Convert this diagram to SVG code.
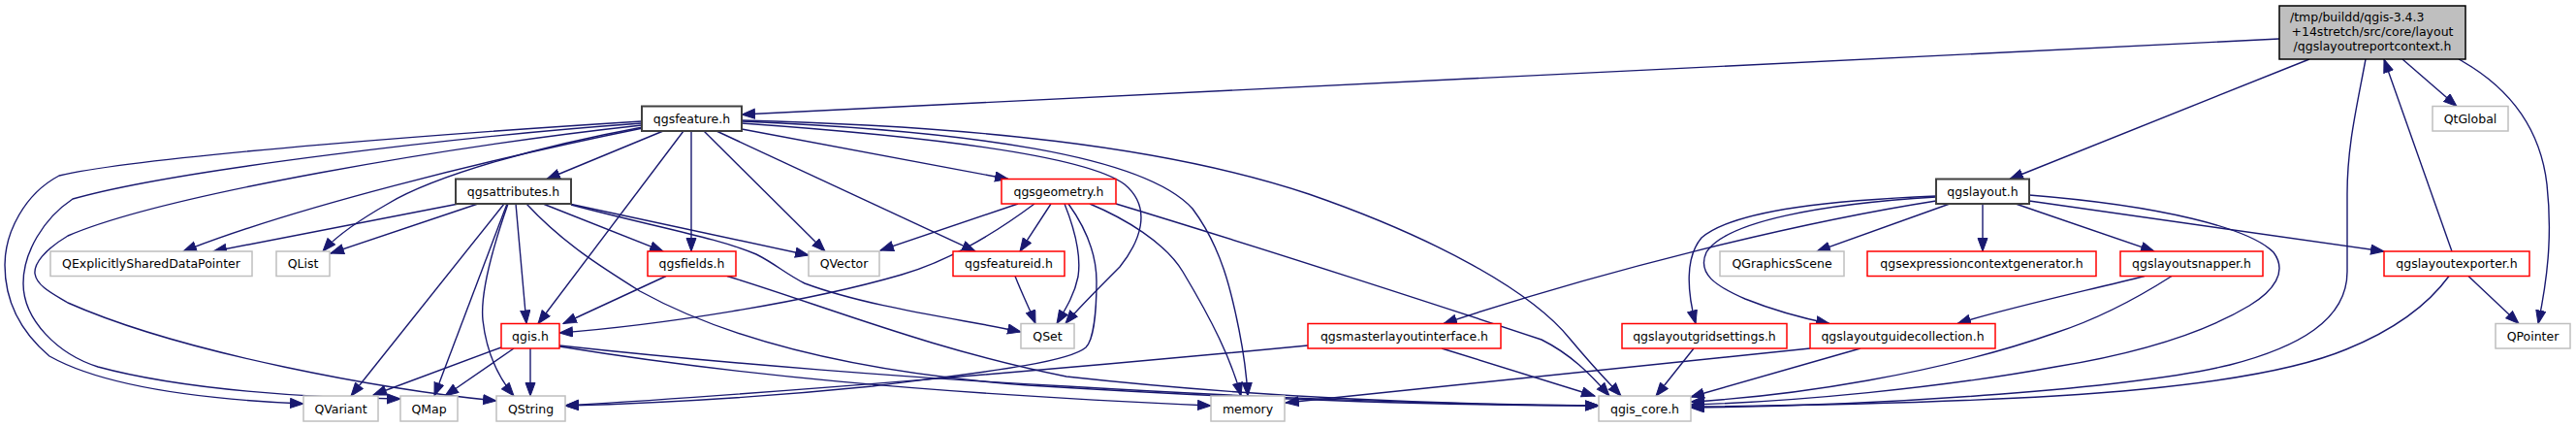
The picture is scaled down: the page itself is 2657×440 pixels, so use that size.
<svg xmlns="http://www.w3.org/2000/svg" width="2657" height="440" viewBox="0 0 2657 440">
<defs>
<style>
.e{fill:none;stroke:#191970;stroke-width:1.4}
.n rect{fill:#ffffff;stroke-width:1.5}
.b rect{stroke:#404040;stroke-width:2}
.r rect{stroke:#ff0000}
.g rect{stroke:#bfbfbf}
text{font-family:"DejaVu Sans","Liberation Sans",sans-serif;font-size:12.5px;fill:#000000;text-anchor:middle}
</style>
<marker id="a" markerWidth="15" markerHeight="12" refX="14" refY="5.5" orient="auto" markerUnits="userSpaceOnUse">
<path d="M0.5,0.5 L14,5.5 L0.5,10.5 z" fill="#191970" stroke="#191970" stroke-width="1"/>
</marker>
</defs>
<rect width="2657" height="440" fill="#ffffff"/>
<g id="connectors">
<path class="e" marker-end="url(#a)" d="M2351,40 L765,118"/>
<path class="e" marker-end="url(#a)" d="M2382,61 L2073,184.5"/>
<path class="e" marker-end="url(#a)" d="M2478,61 L2534,109.5"/>
<path class="e" marker-end="url(#a)" d="M2536,61 C2585,88 2620,130 2627,190 C2633,245 2627,290 2618,333.5"/>
<path class="e" marker-end="url(#a)" d="M2440,61 C2431,110 2421,150 2421,200 L2421,280 C2421,330 2370,358 2300,376 C2200,400 1950,418 1744,420"/>
<path class="e" marker-end="url(#a)" d="M2529,259 L2459,61"/>
<path class="e" marker-end="url(#a)" d="M684,135 L564,184.5"/>
<path class="e" marker-end="url(#a)" d="M663,132 C500,165 300,215 189,259"/>
<path class="e" marker-end="url(#a)" d="M663,131 C560,150 450,180 400,210 C365,230 345,245 333,259"/>
<path class="e" marker-end="url(#a)" d="M662,125 C500,135 150,160 61,181 C25,200 5,240 5,273 C5,315 25,345 51,367 C110,400 220,412 313,416"/>
<path class="e" marker-end="url(#a)" d="M662,127 C480,140 180,175 75,205 C45,225 24,260 24,292 C24,330 60,365 101,378 C190,402 320,410 413,411"/>
<path class="e" marker-end="url(#a)" d="M662,129 C470,150 170,200 70,243 C45,258 35,272 36,282 C38,295 55,303 70,312 C190,365 400,402 512,413"/>
<path class="e" marker-end="url(#a)" d="M705,135 L555,333.5"/>
<path class="e" marker-end="url(#a)" d="M713,135 L713,259"/>
<path class="e" marker-end="url(#a)" d="M726,135 L851,259"/>
<path class="e" marker-end="url(#a)" d="M739,135 L1006,259"/>
<path class="e" marker-end="url(#a)" d="M765,133 L1040,184.5"/>
<path class="e" marker-end="url(#a)" d="M765,127 C950,140 1120,160 1160,190 C1190,215 1175,250 1155,275 C1130,300 1110,320 1099,333.5"/>
<path class="e" marker-end="url(#a)" d="M765,125 C1000,135 1180,160 1230,215 C1260,255 1270,300 1278,340 C1284,370 1286,390 1287,408"/>
<path class="e" marker-end="url(#a)" d="M765,124 C1000,130 1200,150 1350,200 C1480,245 1580,300 1620,350 C1645,380 1660,395 1672,408"/>
<path class="e" marker-end="url(#a)" d="M473,210 L220,259"/>
<path class="e" marker-end="url(#a)" d="M493,210 L341,261"/>
<path class="e" marker-end="url(#a)" d="M520,210 L362,408"/>
<path class="e" marker-end="url(#a)" d="M523,210 L448,408"/>
<path class="e" marker-end="url(#a)" d="M524,210 C510,250 495,300 498,330 C502,365 515,390 530,408"/>
<path class="e" marker-end="url(#a)" d="M532,210 L543,333.5"/>
<path class="e" marker-end="url(#a)" d="M560,210 L684,259"/>
<path class="e" marker-end="url(#a)" d="M587,210 L834,263"/>
<path class="e" marker-end="url(#a)" d="M589,211 C680,235 740,245 780,262 C800,272 810,282 830,292 C900,318 1000,330 1053,342"/>
<path class="e" marker-end="url(#a)" d="M543,210 C580,250 620,275 660,300 C760,355 900,385 1060,397 C1300,412 1500,418 1649,418"/>
<path class="e" marker-end="url(#a)" d="M687,284.5 L581,333.5"/>
<path class="e" marker-end="url(#a)" d="M750,284.5 C850,315 960,360 1100,388 C1300,410 1500,417 1649,418"/>
<path class="e" marker-end="url(#a)" d="M1050,210 L908,258"/>
<path class="e" marker-end="url(#a)" d="M1067,210 C1020,245 975,270 930,283 C830,312 680,335 577,343"/>
<path class="e" marker-end="url(#a)" d="M1084,210 L1052,259"/>
<path class="e" marker-end="url(#a)" d="M1098,210 C1110,240 1115,265 1112,285 C1108,305 1098,320 1090,333.5"/>
<path class="e" marker-end="url(#a)" d="M1102,210 C1120,235 1131,260 1131,290 C1131,320 1128,350 1120,358 C1100,375 1000,385 900,398 C780,410 660,416 583,418"/>
<path class="e" marker-end="url(#a)" d="M1124,210 C1160,225 1202,250 1220,280 C1250,330 1270,370 1280,408"/>
<path class="e" marker-end="url(#a)" d="M1151,210 C1300,255 1500,320 1590,350 C1620,365 1640,385 1660,408"/>
<path class="e" marker-end="url(#a)" d="M1047,284.5 C1055,305 1062,318 1068,333.5"/>
<path class="e" marker-end="url(#a)" d="M517,358 L385,407"/>
<path class="e" marker-end="url(#a)" d="M530,359 L459,408"/>
<path class="e" marker-end="url(#a)" d="M547,359 L547,408"/>
<path class="e" marker-end="url(#a)" d="M577,357 C750,385 950,405 1249,418"/>
<path class="e" marker-end="url(#a)" d="M577,356 C750,375 950,390 1100,398 C1300,410 1500,417 1649,418"/>
<path class="e" marker-end="url(#a)" d="M1349,356 C1100,380 800,405 583,418"/>
<path class="e" marker-end="url(#a)" d="M1487,359 L1645,408"/>
<path class="e" marker-end="url(#a)" d="M2011,210 L1874,259"/>
<path class="e" marker-end="url(#a)" d="M2045,210 L2045,259"/>
<path class="e" marker-end="url(#a)" d="M2079,210 L2222,259"/>
<path class="e" marker-end="url(#a)" d="M2093,207 L2459,259"/>
<path class="e" marker-end="url(#a)" d="M1997,202 C1900,206 1790,215 1755,245 C1738,265 1740,300 1749,333.5"/>
<path class="e" marker-end="url(#a)" d="M1997,203 C1880,210 1780,228 1760,260 C1750,282 1770,295 1800,308 C1830,320 1860,328 1887,333.5"/>
<path class="e" marker-end="url(#a)" d="M1997,207 C1850,230 1650,280 1489,333.5"/>
<path class="e" marker-end="url(#a)" d="M2093,201 C2230,212 2320,235 2345,260 C2360,280 2345,300 2320,315 C2270,345 2200,365 2120,378 C2000,400 1850,414 1744,417"/>
<path class="e" marker-end="url(#a)" d="M2212,284.5 C2150,300 2060,320 2019,333.5"/>
<path class="e" marker-end="url(#a)" d="M2240,284.5 C2200,310 2160,330 2120,343 C2000,385 1850,408 1744,414"/>
<path class="e" marker-end="url(#a)" d="M1919,359 L1744,409"/>
<path class="e" marker-end="url(#a)" d="M1867,359 L1326,415"/>
<path class="e" marker-end="url(#a)" d="M1747,359 L1708,408"/>
<path class="e" marker-end="url(#a)" d="M2546,284.5 L2598,333.5"/>
<path class="e" marker-end="url(#a)" d="M2526,284.5 C2500,320 2462,343 2420,360 C2360,385 2250,400 2120,408 C2000,415 1850,418 1744,419"/>
</g>
<g id="node-main" class="n"><rect x="2351" y="6" width="192" height="55" style="fill:#bfbfbf;stroke:#000000;stroke-width:1.5"/>
<text x="2362" y="22" style="text-anchor:start">/tmp/buildd/qgis-3.4.3</text>
<text x="2447" y="37">+14stretch/src/core/layout</text>
<text x="2447" y="52">/qgslayoutreportcontext.h</text></g>
<g id="node-qgsfeature" class="n b"><rect x="662" y="109.5" width="103" height="25.5"/><text x="713.5" y="126.5">qgsfeature.h</text></g>
<g id="node-QtGlobal" class="n g"><rect x="2509" y="109.5" width="78" height="25.5"/><text x="2548" y="126.5">QtGlobal</text></g>
<g id="node-qgsattributes" class="n b"><rect x="470" y="184.5" width="119" height="25.5"/><text x="529.5" y="201.5">qgsattributes.h</text></g>
<g id="node-qgsgeometry" class="n r"><rect x="1033" y="184.5" width="118" height="25.5"/><text x="1092" y="201.5">qgsgeometry.h</text></g>
<g id="node-qgslayout" class="n b"><rect x="1997" y="184.5" width="96" height="25.5"/><text x="2045" y="201.5">qgslayout.h</text></g>
<g id="node-QExplicitlySharedDataPointer" class="n g"><rect x="52" y="259" width="208" height="25.5"/><text x="156" y="276">QExplicitlySharedDataPointer</text></g>
<g id="node-QList" class="n g"><rect x="285" y="259" width="55" height="25.5"/><text x="312.5" y="276">QList</text></g>
<g id="node-qgsfields" class="n r"><rect x="668" y="259" width="91" height="25.5"/><text x="713.5" y="276">qgsfields.h</text></g>
<g id="node-QVector" class="n g"><rect x="834" y="259" width="73" height="25.5"/><text x="870.5" y="276">QVector</text></g>
<g id="node-qgsfeatureid" class="n r"><rect x="983" y="259" width="115" height="25.5"/><text x="1040.5" y="276">qgsfeatureid.h</text></g>
<g id="node-QGraphicsScene" class="n g"><rect x="1774" y="259" width="128" height="25.5"/><text x="1838" y="276">QGraphicsScene</text></g>
<g id="node-qgsexpressioncontextgenerator" class="n r"><rect x="1926" y="259" width="236" height="25.5"/><text x="2044" y="276">qgsexpressioncontextgenerator.h</text></g>
<g id="node-qgslayoutsnapper" class="n r"><rect x="2187" y="259" width="147" height="25.5"/><text x="2260.5" y="276">qgslayoutsnapper.h</text></g>
<g id="node-qgslayoutexporter" class="n r"><rect x="2459" y="259" width="150" height="25.5"/><text x="2534" y="276">qgslayoutexporter.h</text></g>
<g id="node-qgis" class="n r"><rect x="517" y="333.5" width="60" height="25.5"/><text x="547" y="350.5">qgis.h</text></g>
<g id="node-QSet" class="n g"><rect x="1053" y="333.5" width="55" height="25.5"/><text x="1080.5" y="350.5">QSet</text></g>
<g id="node-qgsmasterlayoutinterface" class="n r"><rect x="1349" y="333.5" width="199" height="25.5"/><text x="1448.5" y="350.5">qgsmasterlayoutinterface.h</text></g>
<g id="node-qgslayoutgridsettings" class="n r"><rect x="1673" y="333.5" width="170" height="25.5"/><text x="1758" y="350.5">qgslayoutgridsettings.h</text></g>
<g id="node-qgslayoutguidecollection" class="n r"><rect x="1867" y="333.5" width="191" height="25.5"/><text x="1962.5" y="350.5">qgslayoutguidecollection.h</text></g>
<g id="node-QPointer" class="n g"><rect x="2574" y="333.5" width="77" height="25.5"/><text x="2612.5" y="350.5">QPointer</text></g>
<g id="node-QVariant" class="n g"><rect x="313" y="408" width="77" height="26"/><text x="351.5" y="425.5">QVariant</text></g>
<g id="node-QMap" class="n g"><rect x="413" y="408" width="59" height="26"/><text x="442.5" y="425.5">QMap</text></g>
<g id="node-QString" class="n g"><rect x="512" y="408" width="71" height="26"/><text x="547.5" y="425.5">QString</text></g>
<g id="node-memory" class="n g"><rect x="1249" y="408" width="76" height="26"/><text x="1287" y="425.5">memory</text></g>
<g id="node-qgis_core" class="n g"><rect x="1649" y="408" width="95" height="26"/><text x="1696.5" y="425.5">qgis_core.h</text></g>
</svg>
